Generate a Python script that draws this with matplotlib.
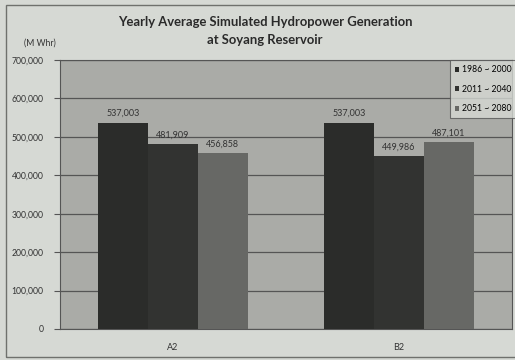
import matplotlib.pyplot as plt
import numpy as np

scenarios = ["A2", "B2"]
periods = ["1986 ~ 2000", "2011 ~ 2040", "2051 ~ 2080"]
generation = [
    [537003, 537003],   # 1986 ~ 2000
    [481909, 449986],   # 2011 ~ 2040
    [456858, 487101],   # 2051 ~ 2080
]
bar_colors = ["#2b2c2a", "#323331", "#676865"]
yticks = [0, 100000, 200000, 300000, 400000, 500000, 600000, 700000]

plt.rcParams["font.family"] = ["Lato", "DejaVu Sans"]

fig = plt.figure(figsize=(5.15, 3.6), dpi=100)
fig.patch.set_facecolor("#d6d9d4")
# outer chart frame
fig.add_artist(plt.Rectangle((6 / 515, 3 / 360), 1, 1 - 8 / 360, transform=fig.transFigure,
                             fill=False, edgecolor="#6f716d", linewidth=1.0))

ax = fig.add_axes([60 / 515, 31 / 360, 452 / 515, 269 / 360])
ax.set_facecolor("#aaaba7")

x = np.arange(len(scenarios))
width = 0.22
for i, (vals, col) in enumerate(zip(generation, bar_colors)):
    pos = x + (i - 1) * width
    ax.bar(pos, vals, width=width, color=col, label=periods[i], zorder=3)
    for p, v in zip(pos, vals):
        ax.text(p, v + 12000, f"{v:,}", ha="center", va="bottom", fontsize=6.5,
                color="#333333", zorder=4)

ax.set_xlim(-0.5, 1.5)
ax.set_ylim(0, 700000)
ax.set_yticks(yticks)
ax.set_yticklabels([f"{t:,}" for t in yticks], fontsize=6.2, color="#333333")
ax.set_xticks(x)
ax.set_xticklabels(scenarios, fontsize=6.5, color="#333333")
ax.tick_params(axis="y", length=4, width=0.8, color="#555555", pad=8)
ax.tick_params(axis="x", length=0, pad=10)
ax.grid(axis="y", color="#555555", linewidth=0.9, zorder=1)
for s in ax.spines.values():
    s.set_color("#555555")
    s.set_linewidth(0.8)

fig.text(265 / 515, 1 - 22 / 360, "Yearly Average Simulated Hydropower Generation",
         ha="center", va="center", fontsize=9.4, fontweight="bold", color="#2a2a2a")
fig.text(265 / 515, 1 - 40 / 360, "at Soyang Reservoir",
         ha="center", va="center", fontsize=9.4, fontweight="bold", color="#2a2a2a")
fig.text(24 / 515, 1 - 43 / 360, "(M Whr)", ha="left", va="center", fontsize=6.2,
         color="#333333")

leg = fig.legend(loc="upper right", bbox_to_anchor=(1.012, 1 - 56 / 360), fontsize=6.2,
                 frameon=True, fancybox=False, handlelength=0.5, handleheight=0.5,
                 handletextpad=0.3, labelspacing=1.2, borderpad=0.6)
leg.get_frame().set_facecolor("#d6d9d4")
leg.get_frame().set_edgecolor("#555555")
leg.get_frame().set_linewidth(0.8)

fig.savefig("out.png", dpi=100, facecolor=fig.get_facecolor())
